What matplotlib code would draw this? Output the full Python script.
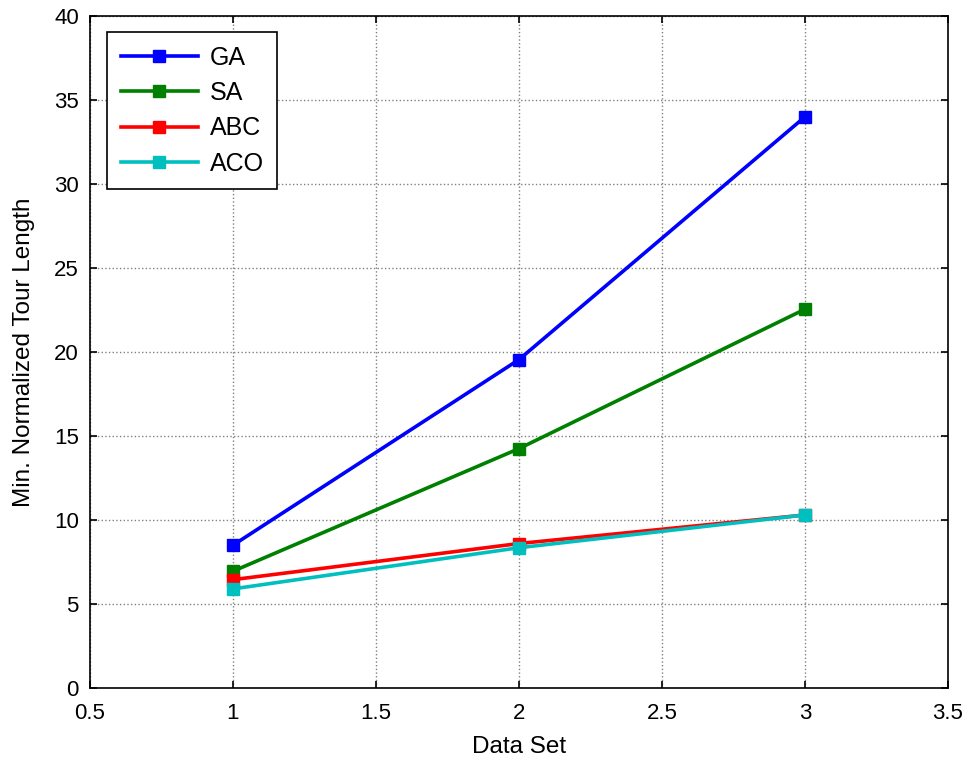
import matplotlib.pyplot as plt
import numpy as np

plt.rcParams['font.family'] = ['Liberation Sans', 'DejaVu Sans']

# minimum normalized tour length per data set
data_sets = [1, 2, 3]
ga = [8.5, 19.55, 34.0]
sa = [6.95, 14.25, 22.55]
abc = [6.45, 8.6, 10.3]
aco = [5.9, 8.35, 10.3]

labels = ['GA', 'SA', 'ABC', 'ACO']
colors = ['#0000ff', '#008000', '#ff0000', '#00bfbf']

fig = plt.figure(figsize=(9.77, 7.63), dpi=100)
ax = fig.add_axes([0.0921, 0.0983, 0.8782, 0.8807])

for vals, lab, col in zip([ga, sa, abc, aco], labels, colors):
    ax.plot(data_sets, vals, '-s', color=col, lw=2.6, ms=8, label=lab)

ax.set_xlim(0.5, 3.5)
ax.set_ylim(0, 40)
ax.set_xticks(np.arange(0.5, 3.51, 0.5))
ax.set_xticklabels(['0.5', '1', '1.5', '2', '2.5', '3', '3.5'])
ax.set_yticks(np.arange(0, 41, 5))
ax.grid(True, color='#808080', linestyle=':', linewidth=1)
ax.tick_params(direction='in', top=True, right=True, labelsize=16, length=5, width=1.2, pad=8)
ax.tick_params(axis='x', pad=10.5)
for s in ax.spines.values():
    s.set_linewidth(1.2)

ax.set_xlabel('Data Set', fontsize=17.5, labelpad=9)
ax.set_ylabel('Min. Normalized Tour Length', fontsize=17.5, labelpad=13.5)

leg = ax.legend(loc='upper left', fontsize=18, fancybox=False, edgecolor='black',
                framealpha=1, borderaxespad=0, borderpad=0.55, handlelength=3.1,
                handletextpad=0.45, labelspacing=0.45, bbox_to_anchor=(0.0198, 0.976))
leg.get_frame().set_linewidth(1.2)

fig.savefig('out.png', dpi=100)
